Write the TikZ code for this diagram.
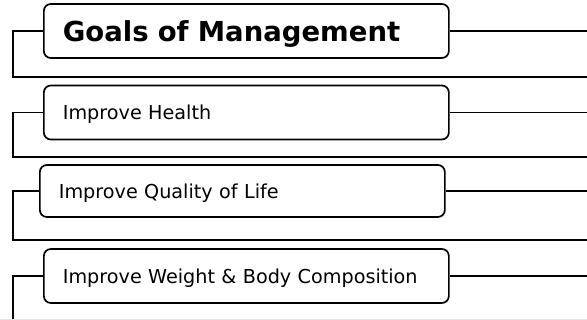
\documentclass[tikz,border=0pt]{standalone}
\usepackage{fontspec}
\setmainfont{DejaVu Sans}
\begin{document}
\begin{tikzpicture}
			[x=1pt,y=-1pt,line width=1.7pt,
			 goal/.style={draw,rounded corners=7pt,anchor=west,minimum height=54pt,
			   minimum width=405pt,text width=367pt,align=left,inner sep=0pt,
			   text depth=0pt,
			   font=\fontsize{19.2}{22}\selectfont}]
			\useasboundingbox (0,0) rectangle (587,320);
			\node[goal,font=\fontsize{27.5}{32}\selectfont\bfseries] (g) at (43,31)  {Goals of Management};
			\node[goal] (h) at (43,112.5)  {Improve Health};
			\node[goal,minimum height=52pt] (q) at (39,191)  {Improve Quality of Life};
			\node[goal] (w) at (43,276)  {Improve Weight \& Body Composition};
			
			\foreach \n/\m/\b in {g/31/77,h/112.5/157,q/191/240}
			{
			\coordinate (\n-l) at (13,\m);
			\coordinate (\n-r) at (587,\m);
			\coordinate (\n-b) at (587,\b);
			\draw (\n.east) -- (\n-r);
			\draw (\n.west) -- (\n-l) |- (\n-b);
			}
			\coordinate (w-l) at (13,276);
			\coordinate (w-r) at (587,276);
			\coordinate (w-b) at (13,320);
			\draw (w.east) -- (w-r);
			\draw (w.west) -- (w-l) -- (w-b);
			\draw[gray!20,line width=1pt] (0,319.5) -- (587,319.5);
			\end{tikzpicture}
\end{document}
